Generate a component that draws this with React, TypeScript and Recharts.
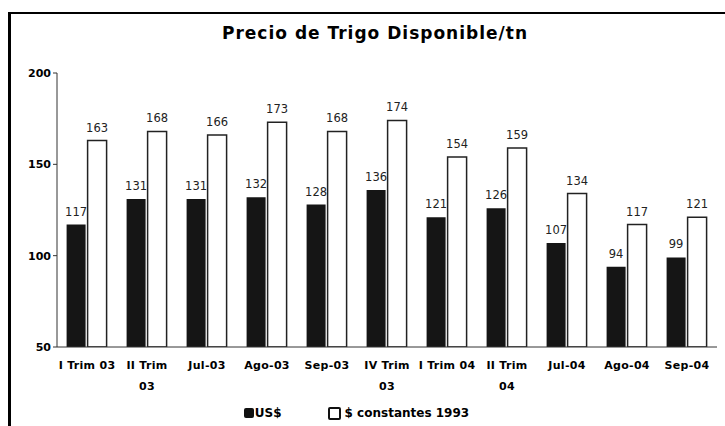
import React from 'react';
import { BarChart, Bar, XAxis, YAxis, Legend, LabelList } from 'recharts';

const categories = [
  'I Trim 03',
  'II Trim\n03',
  'Jul-03',
  'Ago-03',
  'Sep-03',
  'IV Trim\n03',
  'I Trim 04',
  'II Trim\n04',
  'Jul-04',
  'Ago-04',
  'Sep-04',
];
const usd = [117, 131, 131, 132, 128, 136, 121, 126, 107, 94, 99];
const constantes = [163, 168, 166, 173, 168, 174, 154, 159, 134, 117, 121];
const yTicks = [50, 100, 150, 200];

const FONT = '"DejaVu Sans", sans-serif';

const data = categories.map((name, i) => ({
  name,
  usd: usd[i],
  constantes: constantes[i],
}));

// two-line category labels
const CategoryTick = ({ x, y, payload }: any) => {
  const lines = String(payload.value).split('\n');
  return (
    <text x={x} y={y} textAnchor="middle" fontFamily={FONT} fontWeight="bold" fontSize={11} fill="#000" letterSpacing={0.3}>
      {lines.map((line, i) => (
        <tspan key={i} x={x} dy={i === 0 ? 14 : 21}>
          {line}
        </tspan>
      ))}
    </text>
  );
};

const LegendContent = () => (
  <div
    style={{
      display: 'flex',
      justifyContent: 'center',
      alignItems: 'center',
      fontFamily: FONT,
      fontWeight: 'bold',
      fontSize: 12,
      color: '#000',
      paddingTop: 13,
      paddingRight: 4,
    }}
  >
    <span style={{ display: 'flex', alignItems: 'center', marginRight: 46 }}>
      <span style={{ width: 10, height: 10, background: '#111', borderRadius: 2, marginRight: 1 }} />
      US$
    </span>
    <span style={{ display: 'flex', alignItems: 'center' }}>
      <span
        style={{
          width: 9,
          height: 9,
          border: '2px solid #111',
          borderRadius: 2,
          marginRight: 4,
          boxSizing: 'content-box',
        }}
      />
      $ constantes 1993
    </span>
  </div>
);

export default function App() {
  return (
    <div style={{ position: 'absolute', left: 0, top: 0, width: 725, height: 426, background: '#fff' }}>
      <div
        style={{
          position: 'absolute',
          left: 8,
          top: 12,
          width: 717,
          height: 420,
          borderTop: '2px solid #000',
          borderLeft: '3px solid #000',
        }}
      />
      <div
        style={{
          position: 'absolute',
          left: 9,
          width: 716,
          top: 23,
          textAlign: 'center',
          fontFamily: FONT,
          fontWeight: 'bold',
          fontSize: 17,
          letterSpacing: 1,
          color: '#000',
          paddingLeft: 8,
        }}
      >
        Precio de Trigo Disponible/tn
      </div>
      <div style={{ position: 'absolute', left: 0, top: 0 }}>
        <BarChart
          width={725}
          height={426}
          data={data}
          margin={{ top: 73, right: 8, bottom: 0, left: 0 }}
          barCategoryGap="16%"
          barGap={2}
        >
          <XAxis
            dataKey="name"
            height={46}
            interval={0}
            tick={<CategoryTick />}
            tickLine={false}
            axisLine={{ stroke: '#333', strokeWidth: 1 }}
          />
          <YAxis
            width={57}
            domain={[50, 200]}
            ticks={yTicks}
            allowDataOverflow
            tickSize={4}
            tickLine={{ stroke: '#333' }}
            axisLine={{ stroke: '#333', strokeWidth: 1 }}
            tick={{ fontFamily: FONT, fontWeight: 'bold', fontSize: 11, fill: '#000' }}
          />
          <Legend verticalAlign="bottom" height={33} content={<LegendContent />} />
          <Bar dataKey="usd" name="US$" fill="#151515" isAnimationActive={false}>
            <LabelList
              dataKey="usd"
              position="top"
              offset={9}
              style={{ fontFamily: FONT, fontSize: 11.5, fill: '#222' }}
            />
          </Bar>
          <Bar
            dataKey="constantes"
            name="$ constantes 1993"
            fill="#fff"
            stroke="#222"
            strokeWidth={1.5}
            isAnimationActive={false}
          >
            <LabelList
              dataKey="constantes"
              position="top"
              offset={9}
              style={{ fontFamily: FONT, fontSize: 11.5, fill: '#222' }}
            />
          </Bar>
        </BarChart>
      </div>
    </div>
  );
}
